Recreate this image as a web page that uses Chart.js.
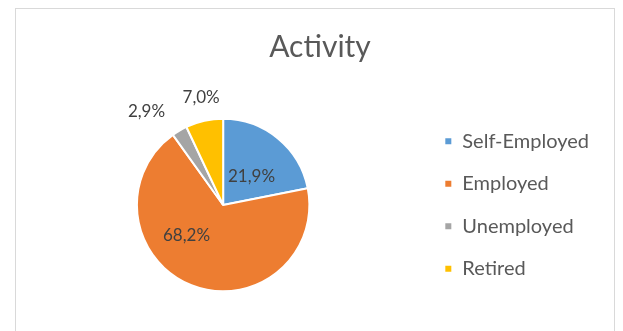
<!DOCTYPE html>
<html>
<head>
<meta charset="utf-8">
<title>Activity</title>
<script src="https://cdn.jsdelivr.net/npm/chart.js@4.4.1/dist/chart.umd.min.js"></script>
<style>
    body {
        margin: 0;
        background: #ffffff;
        overflow: hidden;
    }
    #chartBox {
        position: absolute;
        left: 15px;
        top: 8px;
        width: 598px;
        height: 340px;
        border: 1px solid #d9d9d9;
    }
    #chartWrap {
        position: absolute;
        left: 0;
        top: 0;
        width: 608px;
        height: 322px;
    }
</style>
</head>
<body>
<div id="chartBox">
    <div id="chartWrap">
        <canvas id="activityChart"></canvas>
    </div>
</div>
<script>
const chartTitle = `Activity`;
const categories = [`Self-Employed`, `Employed`, `Unemployed`, `Retired`];
const shares = [21.9, 68.2, 2.9, 7.0];
const sliceColors = [`#5B9BD5`, `#ED7D31`, `#A5A5A5`, `#FFC000`];

const fontFamily = `Lato, "Noto Sans", sans-serif`;

// where each percentage sits: fraction of the radius and a turn (degrees) off the slice middle
const labelPlacement = [
    { radius: 0.47, turn: 5 },
    { radius: 0.55, turn: 29 },
    { radius: 1.40, turn: -9 },
    { radius: 1.27, turn: 1 }
];

const formatShare = value => `${value.toFixed(1).replace(`.`, `,`)}%`;

// title centred on the whole canvas, independent of the legend column
const centredTitle = {
    id: `centredTitle`,
    afterDraw(chart) {
        const ctx = chart.ctx;
        ctx.save();
        ctx.font = `30px ${fontFamily}`;
        ctx.fillStyle = `#595959`;
        ctx.textAlign = `center`;
        ctx.textBaseline = `middle`;
        ctx.fillText(chartTitle, chart.width / 2, 38);
        ctx.restore();
    }
};

const percentLabels = {
    id: `percentLabels`,
    afterDatasetsDraw(chart) {
        const ctx = chart.ctx;
        const arcs = chart.getDatasetMeta(0).data;
        ctx.save();
        ctx.font = `17px ${fontFamily}`;
        ctx.fillStyle = `#404040`;
        ctx.textAlign = `center`;
        ctx.textBaseline = `middle`;
        arcs.forEach((arc, i) => {
            const { x, y, startAngle, endAngle, outerRadius } = arc.getProps([`x`, `y`, `startAngle`, `endAngle`, `outerRadius`], true);
            const place = labelPlacement[i];
            const angle = (startAngle + endAngle) / 2 + place.turn * Math.PI / 180;
            const dist = outerRadius * place.radius;
            ctx.fillText(formatShare(shares[i]), x + Math.cos(angle) * dist, y + Math.sin(angle) * dist);
        });
        ctx.restore();
    }
};

const ctx = document.getElementById(`activityChart`).getContext(`2d`);

const chart = new Chart(ctx, {
    type: `pie`,
    data: {
        labels: categories,
        datasets: [{
            data: shares,
            backgroundColor: sliceColors,
            borderColor: `#ffffff`,
            borderWidth: 2,
            radius: `75%`
        }]
    },
    options: {
        responsive: true,
        maintainAspectRatio: false,
        animation: false,
        events: [],
        layout: {
            padding: { left: 8.5, right: 25, top: 80, bottom: 10 }
        },
        plugins: {
            title: { display: false },
            legend: {
                position: `right`,
                align: `center`,
                labels: {
                    color: `#595959`,
                    font: { family: fontFamily, size: 20 },
                    boxWidth: 8,
                    boxHeight: 8,
                    padding: 22.5
                }
            },
            tooltip: { enabled: false }
        }
    },
    plugins: [percentLabels, centredTitle]
});
</script>
</body>
</html>
